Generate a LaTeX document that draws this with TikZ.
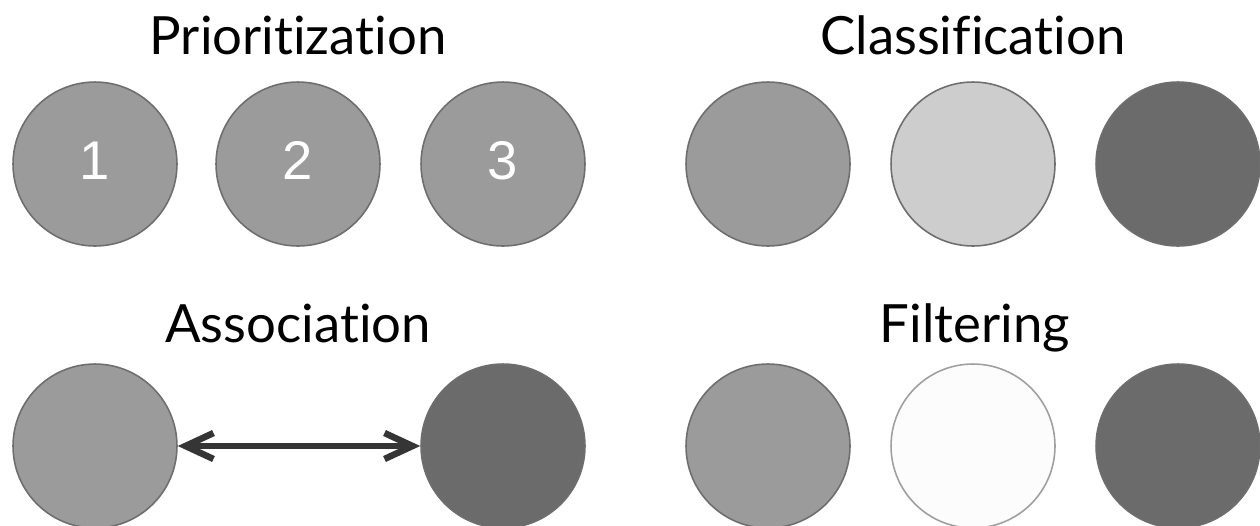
\documentclass[tikz,border=0pt]{standalone}
\usepackage{fontspec}
\setmainfont{Lato}[Ligatures={NoCommon}]
\newfontfamily\digitfont{Liberation Sans}
\usetikzlibrary{arrows.meta,fadings}
\definecolor{midgray}{HTML}{9B9B9B}
\definecolor{lightgray}{HTML}{CDCDCD}
\definecolor{darkgray}{HTML}{6B6B6B}
\definecolor{paleball}{HTML}{FCFCFC}
\definecolor{rimgray}{HTML}{6E6E6E}
\definecolor{arrowgray}{HTML}{353535}
% soft darkening towards the rim of each ball
\pgfdeclareradialshading{rimshade}{\pgfpointorigin}{%
  color(0bp)=(pgftransparent!100); color(41bp)=(pgftransparent!100);
  color(50bp)=(pgftransparent!78)}
\pgfdeclarefading{rimfade}{\pgfuseshading{rimshade}}
\tikzset{
  ball/.style={circle, minimum size=3.28cm, inner sep=0pt, draw=rimgray, line width=0.9pt,
    postaction={fill=black, path fading=rimfade, fit fading=true}},
  title/.style={font=\fontsize{30}{34}\selectfont, text=black, anchor=base},
  num/.style={font=\digitfont\fontsize{31}{34}\selectfont, text=white},
  link/.style={arrowgray, line width=0.13cm,
    {Straight Barb[length=0.56cm,width=0.52cm]}-{Straight Barb[length=0.56cm,width=0.52cm]}},
}
\begin{document}
\begin{tikzpicture}[x=0.02cm,y=-0.02cm]
\useasboundingbox (0,0) rectangle (1260,525);
% titles
\node[title] (tprio) at (298,54) {Prioritization};
\node[title] (tclass) at (973,54) {Classification};
\node[title] (tassoc) at (298,342) {Association};
\node[title] (tfilt) at (975,342) {Filtering};
% prioritization
\node[ball, fill=midgray] (p1) at (95,164) {};
\node[num] at ([yshift=2pt]p1) {1};
\node[ball, fill=midgray] (p2) at (298,164) {};
\node[num] at ([yshift=2pt]p2) {2};
\node[ball, fill=midgray] (p3) at (503,164) {};
\node[num] at ([yshift=2pt]p3) {3};
% classification
\node[ball, fill=midgray] (c1) at (768,164) {};
\node[ball, fill=lightgray] (c2) at (973,164) {};
\node[ball, fill=darkgray] (c3) at (1178,164) {};
% association
\node[ball, fill=midgray] (a1) at (95,446) {};
\node[ball, fill=darkgray] (a2) at (503,446) {};
\draw[link] (a1.east) -- (a2.west);
% filtering
\node[ball, fill=midgray] (f1) at (768,446) {};
\node[ball, fill=paleball, draw=gray!75] (f2) at (973,446) {};
\node[ball, fill=darkgray] (f3) at (1178,446) {};
\end{tikzpicture}
\end{document}
